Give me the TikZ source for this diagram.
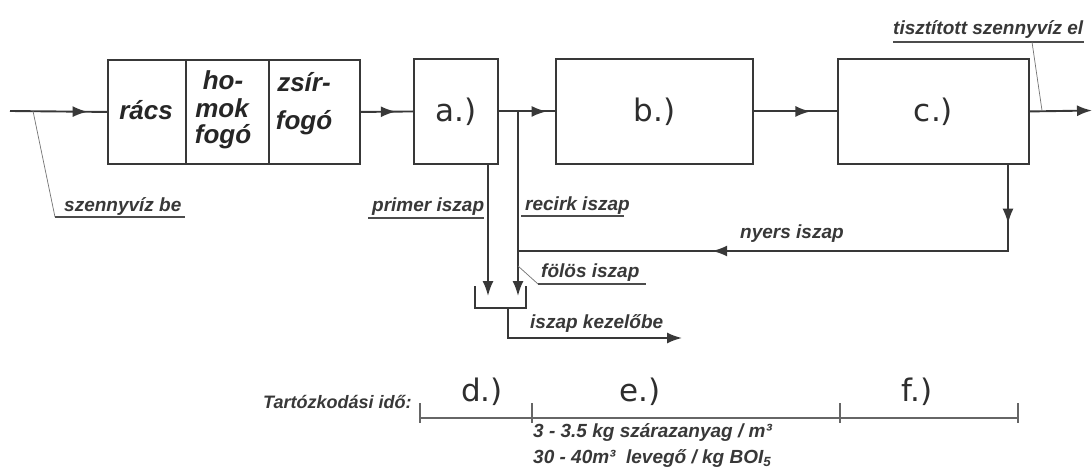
\documentclass[tikz,border=0pt]{standalone}
\usepackage{fontspec}
\newfontfamily\lab{Liberation Sans}
\newfontfamily\dv{DejaVu Sans}
\usetikzlibrary{arrows.meta,decorations.markings}
\tikzset{
  ln/.style={draw=black!78, line width=1.9pt},
  tipx/.style={-{Latex[length=15pt,width=11pt]}},
  midarrow/.style={postaction={decorate, decoration={markings, mark=at position #1 with {\arrow{Latex[length=15pt,width=11pt]}}}}},
  box/.style={draw=black!78, line width=1.9pt, rectangle, inner sep=0pt, anchor=north west},
  lbl/.style={font=\lab\bfseries\itshape\fontsize{19}{19}\selectfont, text=black!78, inner sep=0pt, anchor=base west},
  big/.style={font=\dv\fontsize{31}{31}\selectfont, text=black!82},
  boxtxt/.style={font=\lab\bfseries\itshape\fontsize{26}{26}\selectfont, text=black!85, inner sep=0pt, anchor=base},
  leader/.style={draw=black!55, line width=0.7pt},
  uline/.style={draw=black!70, line width=1.5pt},
  tline/.style={draw=black!60, line width=2.4pt},
  tick/.style={draw=black!60, line width=1.5pt},
}
\begin{document}
\begin{tikzpicture}[x=1pt,y=-1pt]
\useasboundingbox[fill=white] (0,0) rectangle (1092,468);

% boxes
\node[box, minimum width=78pt, minimum height=104pt] (racs) at (107,59) {};
\node[box, minimum width=83pt, minimum height=104pt] (homok) at (185,59) {};
\node[box, minimum width=91pt, minimum height=104pt] (zsir) at (268,59) {};
\node[box, big, minimum width=84pt, minimum height=105pt] (a) at (413,58) {a.)};
\node[box, big, minimum width=197pt, minimum height=105pt] (b) at (555,58) {b.)};
\node[box, big, minimum width=191pt, minimum height=105pt] (c) at (837,58) {c.)};

% box texts
\node[boxtxt] (t1) at (146,120) {rács};
\node[boxtxt] (t2) at (223,90) {ho-};
\node[boxtxt] (t3) at (222,118) {mok};
\node[boxtxt] (t4) at (223,143) {fogó};
\node[boxtxt] (t5) at (304,92) {zsír-};
\node[boxtxt] (t6) at (304,130) {fogó};

% main flow
\coordinate (in) at (10,111);
\coordinate (out) at (1092,110.5);
\coordinate (r) at (518,110.5);
\draw[ln, midarrow=0.8] (in) -- (racs.west);
\draw[ln, midarrow=0.67] (zsir.east) -- (a.west);
\draw[ln, midarrow=0.85] (a.east) -- (b.west);
\draw[ln, midarrow=0.68] (b.east) -- (c.east -| c.west);
\draw[ln, tipx] (c.east) -- (out);

% sludge lines
\coordinate (pbot) at (488,296);
\coordinate (rbot) at (518,296);
\draw[ln, tipx] (a.south -| pbot) -- (pbot);
\draw[ln, tipx] (r) -- (rbot);
\coordinate (nturn) at (1008,251);
\coordinate (njoin) at (518,251);
\draw[ln, midarrow=0.102, midarrow=0.663] (c.south -| nturn) -- (nturn) -- (njoin);

% collector
\coordinate (k1) at (475,286);
\coordinate (k2) at (475,308);
\coordinate (k3) at (526,308);
\coordinate (k4) at (526,286);
\draw[ln] (k1) -- (k2) -- (k3) -- (k4);
\coordinate (o1) at (508,308);
\coordinate (o2) at (508,338);
\coordinate (o3) at (682,338);
\draw[ln, tipx] (o1) -- (o2) -- (o3);

% labels
\node[lbl] (lsz) at (64,211) {szennyvíz be};
\coordinate (lszl) at (55,217);
\coordinate (lszr) at (185,217);
\coordinate (lszp) at (33,111);
\draw[leader] (lszp) -- (lszl);
\draw[uline] (lszl) -- (lszr);

\node[lbl] (lpr) at (372,211) {primer iszap};
\coordinate (lpr1) at (368,218);
\coordinate (lpr2) at (484,218);
\draw[uline] (lpr1) -- (lpr2);

\node[lbl] (lrc) at (525,210) {recirk iszap};
\coordinate (lrc1) at (521,216);
\coordinate (lrc2) at (624,216);
\draw[uline] (lrc1) -- (lrc2);

\node[lbl] (lfo) at (541,277) {fölös iszap};
\coordinate (lfo0) at (518,266);
\coordinate (lfo1) at (538,284);
\coordinate (lfo2) at (646,284);
\draw[leader] (lfo0) -- (lfo1);
\draw[uline] (lfo1) -- (lfo2);

\node[lbl] (lke) at (530,328) {iszap kezelőbe};
\node[lbl] (lny) at (740,238) {nyers iszap};

\node[lbl] (lti) at (893,35) {tisztított szennyvíz el};
\coordinate (lti1) at (893,42);
\coordinate (lti2) at (1084,42);
\coordinate (lti3) at (1032,42);
\coordinate (lti4) at (1042,110.5);
\draw[uline] (lti1) -- (lti2);
\draw[leader] (lti3) -- (lti4);

% time line
\node[lbl, font=\lab\bfseries\itshape\fontsize{18}{18}\selectfont] (ltart) at (263,408) {Tartózkodási idő:};
\coordinate (tl0) at (420,418);
\coordinate (tl1) at (532,418);
\coordinate (tl2) at (840,418);
\coordinate (tl3) at (1018,418);
\draw[tline] (tl0) -- (tl3);
\foreach \p in {tl0,tl1,tl2,tl3} {\draw[tick] (\p) ++(0,-15) -- ++(0,20);}
\node[big] (ld) at (482,392) {d.)};
\node[big] (le) at (640,392) {e.)};
\node[big] (lf) at (917,392) {f.)};

\node[lbl] (lm1) at (533,437) {3 - 3.5 kg szárazanyag / m³};
\node[lbl] (lm2) at (533,463) {30 - 40m³\ \ levegő / kg BOI\textsubscript{5}};
\end{tikzpicture}
\end{document}
